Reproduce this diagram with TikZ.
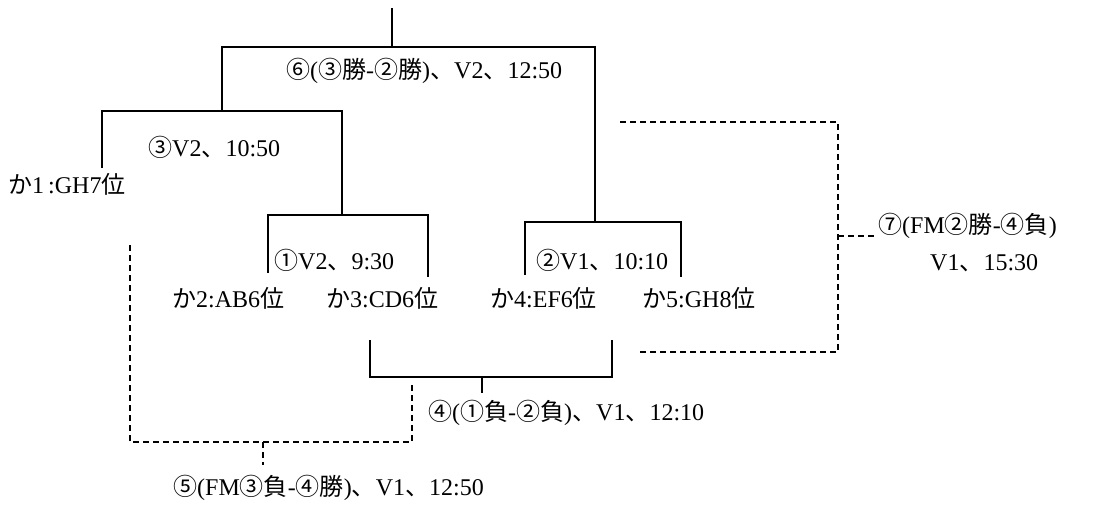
\documentclass[tikz,border=0pt]{standalone}
\usepackage{fontspec}
\setmainfont{Liberation Serif}
\newfontfamily\jp{Noto Sans CJK JP}
\newcommand\J[1]{{\jp #1}}
\begin{document}
\begin{tikzpicture}[x=1pt,y=-1pt,
  solidline/.style={line width=1.4pt},
  dashline/.style={line width=1.4pt,dash pattern=on 6pt off 4pt},
  lbl/.style={anchor=west,inner sep=0pt,font=\fontsize{24}{28}\selectfont}]
\useasboundingbox[fill=white] (0,0) rectangle (1093,506);
% coordinates
\coordinate (top) at (392,8);
\coordinate (s6) at (392,47);
\coordinate (b6l) at (222,47);
\coordinate (b6r) at (595,47);
\coordinate (b3) at (222,111);
\coordinate (b2) at (595,222);
\coordinate (b3l) at (102,111);
\coordinate (b3r) at (342,111);
\coordinate (k1) at (102,168);
\coordinate (b1) at (342,215);
\coordinate (b1l) at (268,215);
\coordinate (b1r) at (428,215);
\coordinate (k2) at (268,273);
\coordinate (k3) at (428,277);
\coordinate (b2l) at (525,222);
\coordinate (b2r) at (681,222);
\coordinate (k4) at (525,275);
\coordinate (k5) at (681,277);
\coordinate (f4l) at (370,340);
\coordinate (f4lb) at (370,377);
\coordinate (f4rb) at (612,377);
\coordinate (f4r) at (612,340);
\coordinate (f4s) at (482,377);
\coordinate (f4e) at (482,393);
\coordinate (d5a) at (130,245);
\coordinate (d5b) at (130,442);
\coordinate (d5c) at (412,442);
\coordinate (d5d) at (412,382);
\coordinate (d5s) at (263,442);
\coordinate (d5e) at (263,465);
\coordinate (d7a) at (620,122);
\coordinate (d7b) at (838,122);
\coordinate (d7c) at (838,352);
\coordinate (d7d) at (637,352);
\coordinate (d7s) at (838,236);
\coordinate (d7e) at (876,236);
% solid brackets
\draw[solidline] (top) -- (s6);
\draw[solidline] (b3) -- (b6l) -- (b6r) -- (b2);
\draw[solidline] (k1) -- (b3l) -- (b3r) -- (b1);
\draw[solidline] (k2) -- (b1l) -- (b1r) -- (k3);
\draw[solidline] (k4) -- (b2l) -- (b2r) -- (k5);
\draw[solidline] (f4l) -- (f4lb) -- (f4rb) -- (f4r);
\draw[solidline] (f4s) -- (f4e);
% dashed
\draw[dashline] (d5a) -- (d5b) -- (d5c) -- (d5d);
\draw[dashline] (d5s) -- (d5e);
\draw[dashline] (d7a) -- (d7b) -- (d7c) -- (d7d);
\draw[dashline] (d7s) -- (d7e);
% labels
\node[lbl] (t6) at (286,71) {\J{⑥}(\J{③勝}-\J{②勝})\J{、}V2\J{、}12:50};
\node[lbl] (t3) at (148,147) {\J{③}V2\J{、}10:50};
\node[lbl] (n1) at (8,184) {\J{か}1\,:GH7\J{位}};
\node[lbl] (t1) at (274,260) {\J{①}V2\J{、}9:30};
\node[lbl] (n2) at (172,298) {\J{か}2:AB6\J{位}};
\node[lbl] (n3) at (326,298) {\J{か}3:CD6\J{位}};
\node[lbl] (t2) at (536,260) {\J{②}V1\J{、}10:10};
\node[lbl] (n4) at (490,298) {\J{か}4:EF6\J{位}};
\node[lbl] (n5) at (642,298) {\J{か}5:GH8\J{位}};
\node[lbl] (t4) at (428,413) {\J{④}(\J{①負}-\J{②負})\J{、}V1\J{、}12:10};
\node[lbl] (t5) at (173,488) {\J{⑤}(FM\J{③負}-\J{④勝})\J{、}V1\J{、}12:50};
\node[lbl] (t7) at (878,226) {\J{⑦}(FM\J{②勝}-\J{④負})};
\node[lbl] (t7b) at (930,263) {V1\J{、}15:30};
\end{tikzpicture}
\end{document}
